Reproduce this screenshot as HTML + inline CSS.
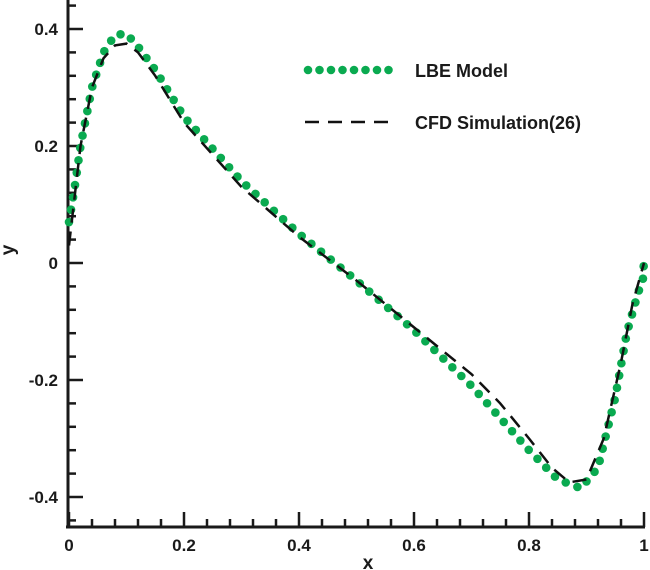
<!DOCTYPE html>
<html><head><style>body{margin:0;background:#fff}svg{display:block}text{font-family:"Liberation Sans",Arial,sans-serif;font-weight:bold;fill:#1a1a1a}</style></head>
<body>
<svg id="s" width="650" height="570" xmlns="http://www.w3.org/2000/svg">
<g stroke="#1a1a1a" stroke-width="3" fill="none">
<line x1="68" y1="0" x2="68" y2="528"/>
<line x1="66" y1="527" x2="645" y2="527"/>
</g>
<g id="ticks" stroke="#1a1a1a" stroke-width="2.5"></g>
<g font-size="17">
<text x="58" y="35" text-anchor="end">0.4</text>
<text x="58" y="152" text-anchor="end">0.2</text>
<text x="58" y="269" text-anchor="end">0</text>
<text x="58" y="386" text-anchor="end">-0.2</text>
<text x="58" y="503" text-anchor="end">-0.4</text>
<text x="69" y="551" text-anchor="middle">0</text>
<text x="184" y="551" text-anchor="middle">0.2</text>
<text x="299" y="551" text-anchor="middle">0.4</text>
<text x="414" y="551" text-anchor="middle">0.6</text>
<text x="529" y="551" text-anchor="middle">0.8</text>
<text x="644" y="551" text-anchor="middle">1</text>
<text x="368" y="569" text-anchor="middle" font-size="19">x</text>
<text transform="translate(14,250) rotate(-90)" text-anchor="middle" font-size="19">y</text>
<text x="415" y="77" font-size="18">LBE Model</text>
<text x="415" y="129" font-size="18">CFD Simulation(26)</text>
</g>
<line x1="305" y1="122" x2="392" y2="122" stroke="#111" stroke-width="2.5" stroke-dasharray="14,9"/>
<g id="dots" fill="#0aaa50"></g>
<path id="cfd" fill="none" stroke="#111" stroke-width="2.5" stroke-dasharray="14,9"/>
</svg>
<script>
var X=function(x){return 69+x*575},Y=function(y){return 263-y*585};
var tg=document.getElementById('ticks'),h='';
for(var i=0;i<=25;i++){var v=i*0.04,x=X(v),L=(i%5==0)?15:8;h+='<line x1="'+x+'" y1="527" x2="'+x+'" y2="'+(527-L)+'"/>';}
for(var i=-11;i<=12;i++){var v=i*0.04,y=Y(v),L=(i%5==0)?15:8;if(y<528&&y>0)h+='<line x1="68" y1="'+y+'" x2="'+(68+L)+'" y2="'+y+'"/>';}
tg.innerHTML=h;
var cfd=[[0,0.03],[0.02,0.2],[0.04,0.3],[0.06,0.35],[0.08,0.372],[0.1,0.375],[0.12,0.36],[0.15,0.32],[0.2,0.24],[0.3,0.13],[0.4,0.045],[0.5,-0.03],[0.6,-0.11],[0.7,-0.19],[0.75,-0.24],[0.8,-0.3],[0.84,-0.35],[0.87,-0.375],[0.9,-0.37],[0.93,-0.3],[0.96,-0.17],[0.98,-0.07],[1,0.0]];
document.getElementById('cfd').setAttribute('d','M'+cfd.map(function(p){return X(p[0])+','+Y(p[1])}).join('L'));
var lbe=[[0,0.07],[0.01,0.13],[0.02,0.2],[0.03,0.25],[0.04,0.3],[0.06,0.36],[0.08,0.39],[0.1,0.392],[0.12,0.37],[0.15,0.33],[0.2,0.25],[0.3,0.14],[0.4,0.05],[0.5,-0.03],[0.6,-0.115],[0.7,-0.21],[0.8,-0.32],[0.85,-0.37],[0.89,-0.385],[0.92,-0.35],[0.95,-0.23],[0.97,-0.12],[0.99,-0.05],[0.998,-0.1],[1,0.005]];
var pts=lbe.slice(0,23).map(function(p){return[X(p[0]),Y(p[1])]});pts.push([X(0.998),Y(-0.03)]);pts.push([X(1),Y(0.005)]);
var d='',acc=0,step=12.5,R=4.3;
d+='<circle cx="'+pts[0][0]+'" cy="'+pts[0][1]+'" r="'+R+'"/>';
for(var i=1;i<pts.length;i++){var a=pts[i-1],b=pts[i],dx=b[0]-a[0],dy=b[1]-a[1],len=Math.hypot(dx,dy),t=step-acc;
while(t<=len){d+='<circle cx="'+(a[0]+dx*t/len)+'" cy="'+(a[1]+dy*t/len)+'" r="'+R+'"/>';t+=step;}acc=len-(t-step);}
for(var k=0;k<8;k++)d+='<circle cx="'+(308+k*11.5)+'" cy="70" r="'+R+'"/>';
document.getElementById('dots').innerHTML=d;
</script>
</body></html>
